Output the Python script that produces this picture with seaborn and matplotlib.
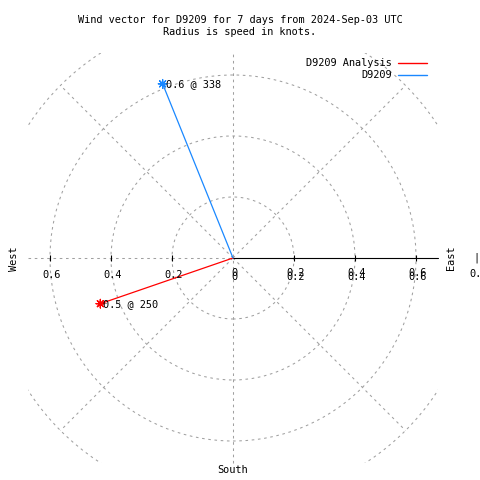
import numpy as np
import pandas as pd
import matplotlib
matplotlib.use('Agg')
import matplotlib.pyplot as plt
import seaborn as sns
from matplotlib.patches import Circle, Rectangle

# wind vectors (speed in knots, direction in compass degrees)
stations = ['D9209 Analysis', 'D9209']
speeds = [0.46, 0.616]
directions = [251, 338]
point_labels = ['0.5 @ 250', '0.6 @ 338']
colors = ['#ff0000', '#1a88ff']

# polar grid
ring_radii = [0.2, 0.4, 0.6, 0.8]
spoke_angles = [45, 135, 225, 315]
tick_values = [0.2, 0.4, 0.6]
tick_labels = ['0.2', '0.4', '0.6']
rmax = 0.672

title = 'Wind vector for D9209 for 7 days from 2024-Sep-03 UTC\nRadius is speed in knots.'

sns.set_style('white')
plt.rcParams['font.family'] = ['DejaVu Sans Mono']
plt.rcParams['text.color'] = 'black'
fs = 7.4
grid_kw = dict(color='#a0a0a0', lw=0.75, ls=(0, (2.5, 3.5)))

# scale: 305 px per knot, centre at pixel (233, 258)
S = 305.0
def px(xp, yp):
    return (xp - 233) / S, (258 - yp) / S

fig = plt.figure(figsize=(4.8, 4.8), dpi=100)
ax = fig.add_axes([0, 0, 1, 1])
ax.set_xlim(-233 / S, 247 / S)
ax.set_ylim(-222 / S, 258 / S)
ax.axis('off')

clip = Rectangle((-rmax, -rmax), 2 * rmax, 2 * rmax, transform=ax.transData)

for r in ring_radii:
    c = Circle((0, 0), r, fill=False, ec=grid_kw['color'], lw=grid_kw['lw'], ls=grid_kw['ls'])
    ax.add_patch(c)
    c.set_clip_path(clip)
for a in spoke_angles:
    t = np.deg2rad(a)
    ax.plot([0, 0.8 * np.sin(t)], [0, 0.8 * np.cos(t)], **grid_kw)
ax.plot([0, 0], [-rmax, rmax], **grid_kw)
ax.plot([-rmax, 0], [0, 0], **grid_kw)
ax.plot([0, rmax], [0, 0], color='black', lw=0.8)

ticks = np.array(tick_values)
ax.plot(np.concatenate([-ticks, ticks]), np.zeros(2 * len(ticks)), ls='none',
        marker='|', ms=5, mew=0.8, color='black')
ylab = px(0, 275)[1]
dy = 3 / S
for v, lab in zip(tick_values, tick_labels):
    ax.text(-v + 2 / S, ylab, lab, ha='center', va='center', fontsize=fs)
    for off in (0, dy):
        ax.text(v + 2 / S, ylab + off - dy / 2, lab, ha='center', va='center', fontsize=fs)
for off in (0, dy):
    ax.text(1 / S, ylab + off - dy / 2, '0', ha='center', va='center', fontsize=fs)

# vectors
rad = np.deg2rad(directions)
tip_x = np.array(speeds) * np.sin(rad)
tip_y = np.array(speeds) * np.cos(rad)
rows = []
for s, x, y in zip(stations, tip_x, tip_y):
    rows.append({'station': s, 'x': 0.0, 'y': 0.0, 'k': 0})
    rows.append({'station': s, 'x': x, 'y': y, 'k': 1})
df = pd.DataFrame(rows)
palette = dict(zip(stations, colors))
sns.lineplot(data=df, x='x', y='y', hue='station', units='station', estimator=None,
             sort=False, palette=palette, lw=0.9, legend=False, ax=ax)
tips = df[df['k'] == 1]
sns.scatterplot(data=tips, x='x', y='y', hue='station', palette=palette,
                marker=(8, 2, 0), s=38, linewidth=0.9, legend=False, ax=ax)
for x, y, lab in zip(tip_x, tip_y, point_labels):
    ax.text(x + 3 / S, y, lab, ha='left', va='center', fontsize=fs)

ax.set_xlabel('')
ax.set_ylabel('')

# title and direction labels
fig.text(0.5, 1 - 26 / 480, title, ha='center', va='center', fontsize=fs, linespacing=1.3)
ax.text(*px(14, 259), 'West', rotation=90, ha='center', va='center', fontsize=fs)
ax.text(*px(451, 258), 'East', rotation=90, ha='center', va='center', fontsize=fs)
ax.text(*px(233, 470), 'South', ha='center', va='center', fontsize=fs)
ax.text(*px(476, 258), '|', ha='center', va='center', fontsize=fs)
ax.text(*px(469, 274), '0.8', ha='left', va='center', fontsize=fs)

# legend, gnuplot style
for i, (s, c) in enumerate(zip(stations, colors)):
    yp = 63 + 12.5 * i
    ax.text(*px(392, yp), s, ha='right', va='center', fontsize=fs)
    (x0, y0), (x1, _) = px(398, yp - 0.5), px(427, yp)
    ax.plot([x0, x1], [y0, y0], color=c, lw=1.0)

fig.savefig('out.png', dpi=100)
